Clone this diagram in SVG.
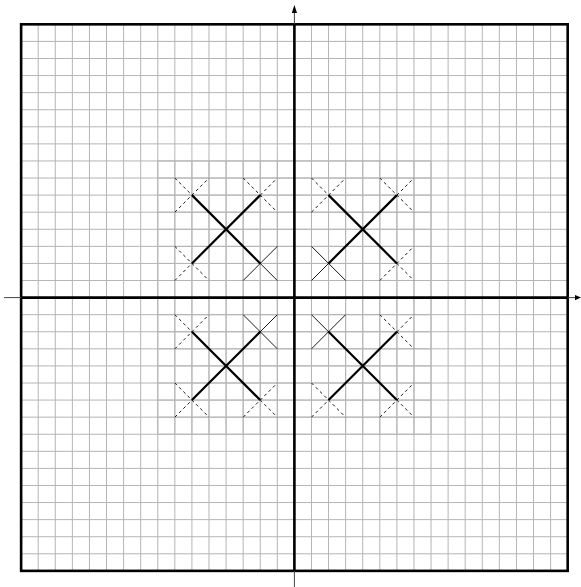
<svg xmlns="http://www.w3.org/2000/svg" xmlns:xlink="http://www.w3.org/1999/xlink" width="581" height="587" viewBox="0 0 581 587">
<style>
.grid{fill:none;stroke:#b5b5b5;stroke-width:1;vector-effect:non-scaling-stroke}
.thin{fill:none;stroke:#444;stroke-width:1}
.thick{fill:none;stroke:#000;stroke-width:2.6}
.big{fill:none;stroke:#000;stroke-width:2.2}
.dash{fill:none;stroke:#000;stroke-width:0.9;stroke-dasharray:3,3}
.solid{fill:none;stroke:#000;stroke-width:0.9}
</style>
<defs>
<path id="sx" d="M-17.08,-17.08L17.08,17.08M-17.08,17.08L17.08,-17.08"/>
<path id="bx" d="M-34.16,-34.16L34.16,34.16M-34.16,34.16L34.16,-34.16"/>
</defs>
<rect width="581" height="587" fill="#fff"/>
<g id="grid" transform="translate(294.4,297.6) scale(17.08,-17.08)">
<path class="grid" d="M-15,-16V16M-14,-16V16M-13,-16V16M-12,-16V16M-11,-16V16M-10,-16V16M-9,-16V16M-8,-16V16M-7,-16V16M-6,-16V16M-5,-16V16M-4,-16V16M-3,-16V16M-2,-16V16M-1,-16V16M1,-16V16M2,-16V16M3,-16V16M4,-16V16M5,-16V16M6,-16V16M7,-16V16M8,-16V16M9,-16V16M10,-16V16M11,-16V16M12,-16V16M13,-16V16M14,-16V16M15,-16V16M-16,-15H16M-16,-14H16M-16,-13H16M-16,-12H16M-16,-11H16M-16,-10H16M-16,-9H16M-16,-8H16M-16,-7H16M-16,-6H16M-16,-5H16M-16,-4H16M-16,-3H16M-16,-2H16M-16,-1H16M-16,1H16M-16,2H16M-16,3H16M-16,4H16M-16,5H16M-16,6H16M-16,7H16M-16,8H16M-16,9H16M-16,10H16M-16,11H16M-16,12H16M-16,13H16M-16,14H16M-16,15H16"/>
<path class="grid" d="M-8,-8V8M-7,-8V8M-6,-8V8M-5,-8V8M-4,-8V8M-3,-8V8M-2,-8V8M-1,-8V8M1,-8V8M2,-8V8M3,-8V8M4,-8V8M5,-8V8M6,-8V8M7,-8V8M8,-8V8M-8,-8H8M-8,-7H8M-8,-6H8M-8,-5H8M-8,-4H8M-8,-3H8M-8,-2H8M-8,-1H8M-8,1H8M-8,2H8M-8,3H8M-8,4H8M-8,5H8M-8,6H8M-8,7H8M-8,8H8"/>
</g>
<rect id="frame" x="21.12" y="24.32" width="546.56" height="546.56" class="thick"/>
<g id="axes">
<path class="thin" d="M4,297.6H576M294.4,587V12"/>
<path d="M581,297.6L575,295L575,300.2Z" fill="#000"/>
<path d="M294.4,5L291.8,13L297,13Z" fill="#000"/>
<path class="thick" d="M21.12,297.6H567.68M294.4,24.32V570.88"/>
</g>
<g id="crosses">
<use xlink:href="#bx" class="big" x="226.08" y="229.28"/>
<use xlink:href="#bx" class="big" x="362.72" y="229.28"/>
<use xlink:href="#bx" class="big" x="226.08" y="365.92"/>
<use xlink:href="#bx" class="big" x="362.72" y="365.92"/>
<use xlink:href="#sx" class="dash" x="191.92" y="195.12"/>
<use xlink:href="#sx" class="dash" x="260.24" y="195.12"/>
<use xlink:href="#sx" class="dash" x="191.92" y="263.44"/>
<use xlink:href="#sx" class="solid" x="260.24" y="263.44"/>
<use xlink:href="#sx" class="dash" x="328.56" y="195.12"/>
<use xlink:href="#sx" class="dash" x="396.88" y="195.12"/>
<use xlink:href="#sx" class="dash" x="396.88" y="263.44"/>
<use xlink:href="#sx" class="solid" x="328.56" y="263.44"/>
<use xlink:href="#sx" class="dash" x="191.92" y="331.76"/>
<use xlink:href="#sx" class="dash" x="191.92" y="400.08"/>
<use xlink:href="#sx" class="dash" x="260.24" y="400.08"/>
<use xlink:href="#sx" class="solid" x="260.24" y="331.76"/>
<use xlink:href="#sx" class="dash" x="396.88" y="331.76"/>
<use xlink:href="#sx" class="dash" x="328.56" y="400.08"/>
<use xlink:href="#sx" class="dash" x="396.88" y="400.08"/>
<use xlink:href="#sx" class="solid" x="328.56" y="331.76"/>
</g>
</svg>
